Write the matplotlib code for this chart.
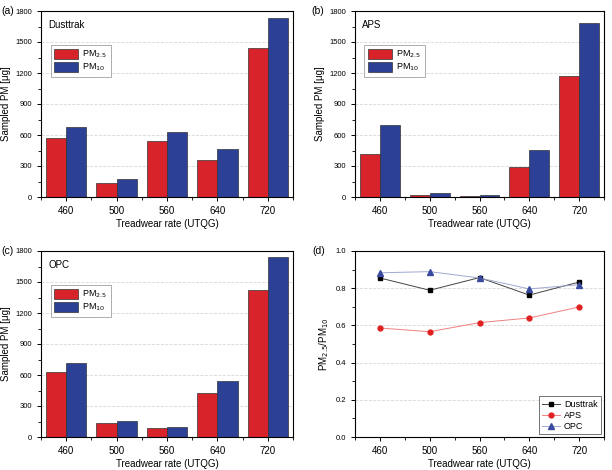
import matplotlib
matplotlib.use('Agg')
import matplotlib.pyplot as plt
import numpy as np
from matplotlib.ticker import MultipleLocator, FixedLocator, FormatStrFormatter

plt.rcParams['font.family'] = ['Liberation Sans', 'DejaVu Sans']

rates = ['460', '500', '560', '640', '720']
dusttrak_pm25 = [574, 135, 542, 355, 1445]
dusttrak_pm10 = [674, 174, 629, 464, 1735]
aps_pm25 = [413, 22, 13, 290, 1174]
aps_pm10 = [700, 39, 19, 452, 1681]
opc_pm25 = [629, 135, 84, 429, 1419]
opc_pm10 = [719, 155, 100, 545, 1739]
ratio_dusttrak = [0.855, 0.789, 0.857, 0.763, 0.833]
ratio_aps = [0.586, 0.566, 0.615, 0.640, 0.699]
ratio_opc = [0.883, 0.889, 0.855, 0.796, 0.819]

red = '#d8232a'
blue = '#2c4095'
x = np.arange(len(rates))

fig = plt.figure(figsize=(6.12, 4.70), dpi=100)
W, H = 612, 470
def add_ax(l, t, r, b):
    return fig.add_axes([l / W, 1 - b / H, (r - l) / W, (b - t) / H])

axa = add_ax(41, 11, 293, 197)
axb = add_ax(355, 11, 604, 197)
axc = add_ax(41, 251, 293, 437)
axd = add_ax(355, 251, 604, 437)

def style(ax):
    ax.set_xlim(-0.5, 4.5)
    ax.set_xticks(x)
    ax.set_xticklabels(rates, fontsize=7)
    ax.xaxis.set_minor_locator(FixedLocator(np.arange(-0.5, 5, 1)))
    ax.tick_params(axis='y', labelsize=5.5, length=3, width=0.7)
    ax.tick_params(axis='x', length=3, width=0.7)
    ax.tick_params(which='minor', length=2, width=0.6)
    ax.yaxis.grid(True, color='#d8d8d8', linestyle='--', linewidth=0.6)
    ax.set_axisbelow(True)
    for s in ax.spines.values():
        s.set_linewidth(0.8)
    ax.set_xlabel('Treadwear rate (UTQG)', fontsize=7, labelpad=2)

def tag(ax, label, px):
    y = ax.get_position().y1
    fig.text(px / W, y, label, fontsize=7.5, va='center', ha='left')

def bars(ax, pm25, pm10, name):
    b1 = ax.bar(x - 0.2, pm25, 0.4, color=red, edgecolor='#333333', linewidth=0.5)
    b2 = ax.bar(x + 0.2, pm10, 0.4, color=blue, edgecolor='#333333', linewidth=0.5)
    ax.set_ylim(0, 1800)
    ax.yaxis.set_major_locator(MultipleLocator(300))
    ax.yaxis.set_minor_locator(MultipleLocator(150))
    style(ax)
    ax.set_ylabel('Sampled PM [μg]', fontsize=7, labelpad=3)
    ax.text(0.03, 0.95, name, transform=ax.transAxes, fontsize=7, va='top', ha='left')
    leg = ax.legend((b1[0], b2[0]), ('PM$_{2.5}$', 'PM$_{10}$'), loc='upper left',
                    bbox_to_anchor=(0.02, 0.84), fontsize=6.5, fancybox=False,
                    edgecolor='#888888', handlelength=2.6, handleheight=1.3,
                    borderpad=0.4, labelspacing=0.15, handletextpad=0.5)
    leg.get_frame().set_linewidth(0.6)

bars(axa, dusttrak_pm25, dusttrak_pm10, 'Dusttrak')
bars(axb, aps_pm25, aps_pm10, 'APS')
bars(axc, opc_pm25, opc_pm10, 'OPC')

axd.plot(x, ratio_dusttrak, color='#444444', lw=0.7, marker='s', ms=3.5,
         mfc='black', mec='black', label='Dusttrak')
axd.plot(x, ratio_aps, color='#f08080', lw=0.7, marker='o', ms=3.5,
         mfc='#e02020', mec='#e02020', label='APS')
axd.plot(x, ratio_opc, color='#a0a8d0', lw=0.7, marker='^', ms=3.8,
         mfc='#3a4aa0', mec='#3a4aa0', label='OPC')
axd.set_ylim(0, 1.0)
axd.yaxis.set_major_locator(MultipleLocator(0.2))
axd.yaxis.set_minor_locator(MultipleLocator(0.1))
axd.yaxis.set_major_formatter(FormatStrFormatter('%.1f'))
style(axd)
axd.set_ylabel('PM$_{2.5}$/PM$_{10}$', fontsize=7, labelpad=3)
leg = axd.legend(loc='lower right', fontsize=6.5, fancybox=False, edgecolor='#333333',
                 handlelength=2.0, borderpad=0.4, labelspacing=0.2, handletextpad=0.4,
                 borderaxespad=0.3)
leg.get_frame().set_linewidth(0.6)

tag(axa, '(a)', 1)
tag(axb, '(b)', 311)
tag(axc, '(c)', 1)
tag(axd, '(d)', 312)

fig.savefig('out.png', dpi=100)
